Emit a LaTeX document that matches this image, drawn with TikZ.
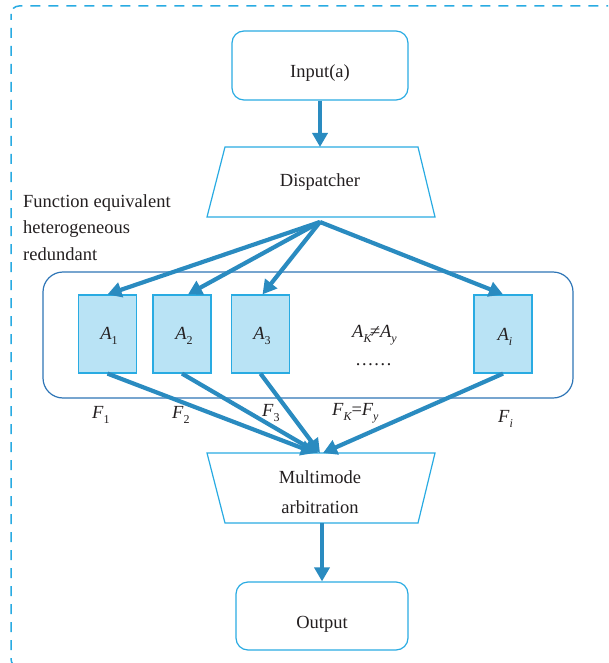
\documentclass[tikz,border=0pt]{standalone}
\usepackage{fontspec}
\setmainfont{Liberation Serif}
\usetikzlibrary{arrows.meta}

\definecolor{txtcol}{RGB}{35,31,32}
\definecolor{cyanline}{RGB}{41,171,226}
\definecolor{groupline}{RGB}{46,117,182}
\definecolor{boxfill}{RGB}{185,227,245}
\definecolor{flowcol}{RGB}{42,139,192}

% lowered small subscript, as in A_1, F_K
\newcommand\lowsub[1]{\raisebox{-5pt}{\fontsize{12}{12}\selectfont #1}}

\tikzset{
  lbl/.style={font=\fontsize{18.5}{22}\selectfont, text=txtcol, inner sep=0pt},
  termbox/.style={draw=cyanline, line width=1.2pt, rounded corners=12pt, inner sep=0pt},
  modbox/.style={draw=cyanline, fill=boxfill, line width=1.2pt, inner sep=0pt,
                 minimum width=58pt, minimum height=78pt},
  flow/.style={draw=flowcol, line width=4.2pt, -{Triangle[length=14pt,width=15pt]}},
  trap/.style={draw=cyanline, line width=1.2pt, line join=miter},
  frame/.style={draw=cyanline, line width=1.5pt, dash pattern=on 10pt off 8pt, dash phase=4pt},
}

\begin{document}
\begin{tikzpicture}[x=1pt, y=-1pt]
\useasboundingbox (0,0) rectangle (608,663);
\begin{scope}
\clip (0,0) rectangle (608,663);
\draw[frame, rounded corners=8pt] (11,6) rectangle (650,667);
\end{scope}

% input and output terminals
\node[termbox, minimum width=176pt, minimum height=69pt] (in) at (320,65.5) {};
\node[lbl, anchor=base] (intxt) at (320,78) {Input(a)};
\node[termbox, minimum width=172pt, minimum height=68pt] (out) at (322,616) {};
\node[lbl, anchor=base] (outtxt) at (322,628) {Output};

% dispatcher (trapezium, wide side down)
\draw[trap] (225,147) -- (418,147) -- (435,217) -- (207,217) -- cycle;
\coordinate (dspin) at (320,147);
\coordinate (dspout) at (320,222);
\node[lbl, anchor=base] (dsptxt) at (320,186) {Dispatcher};

% arbitration stage (trapezium, wide side up)
\draw[trap] (207,453) -- (435,453) -- (418,523) -- (225,523) -- cycle;
\coordinate (arbout) at (322,523);
\node[lbl, anchor=base] (arbtxt1) at (320,483) {Multimode};
\node[lbl, anchor=base] (arbtxt2) at (320,513) {arbitration};

% group caption
\node[lbl, anchor=base west] (cap1) at (23,207) {Function equivalent};
\node[lbl, anchor=base west] (cap2) at (23,233) {heterogeneous};
\node[lbl, anchor=base west] (cap3) at (23,260) {redundant};

% redundant group
\draw[draw=groupline, line width=1.2pt, rounded corners=20pt] (43,272) rectangle (573,398);

\node[modbox] (a1) at (107.5,334) {};
\node[modbox] (a2) at (182,334) {};
\node[modbox] (a3) at (260.5,334) {};
\node[modbox] (ai) at (503,334) {};

\node[lbl, anchor=base] (a1txt) at (109,339) {\itshape A\lowsub{\upshape 1}};
\node[lbl, anchor=base] (a2txt) at (184,339) {\itshape A\lowsub{\upshape 2}};
\node[lbl, anchor=base] (a3txt) at (262,339) {\itshape A\lowsub{\upshape 3}};
\node[lbl, anchor=base] (aitxt) at (505,340) {\itshape A\lowsub{i}};
\node[lbl, anchor=base west] (neq) at (352,337) {\itshape A\lowsub{K}\kern-1.5pt\upshape≠\itshape A\lowsub{y}};
\node[lbl, anchor=base west] (dots) at (355,365) {……};

% output labels
\node[lbl, anchor=base west] (f1) at (92,418) {\itshape F\lowsub{\upshape 1}};
\node[lbl, anchor=base west] (f2) at (172,418) {\itshape F\lowsub{\upshape 2}};
\node[lbl, anchor=base west] (f3) at (262,416) {\itshape F\lowsub{\upshape 3}};
\node[lbl, anchor=base west] (fk) at (332,415) {\itshape F\lowsub{K}\upshape=\itshape F\lowsub{y}};
\node[lbl, anchor=base west] (fi) at (498,422) {\itshape F\lowsub{i}};

% arbitration inputs
\coordinate (arb1) at (315,453);
\coordinate (arb2) at (318,453);
\coordinate (arb3) at (320,453);
\coordinate (arbi) at (323,453);

% connectors
\draw[flow] (in.south) -- (dspin);
\draw[flow] (dspout) -- (a1.north);
\draw[flow] (dspout) -- ([xshift=6pt]a2.north);
\draw[flow] (dspout) -- ([xshift=2pt]a3.north);
\draw[flow] (dspout) -- (ai.north);
\draw[flow] (a1.south) -- (arb1);
\draw[flow] (a2.south) -- (arb2);
\draw[flow] (a3.south) -- (arb3);
\draw[flow] (ai.south) -- (arbi);
\draw[flow] (arbout) -- (out.north);
\end{tikzpicture}
\end{document}
